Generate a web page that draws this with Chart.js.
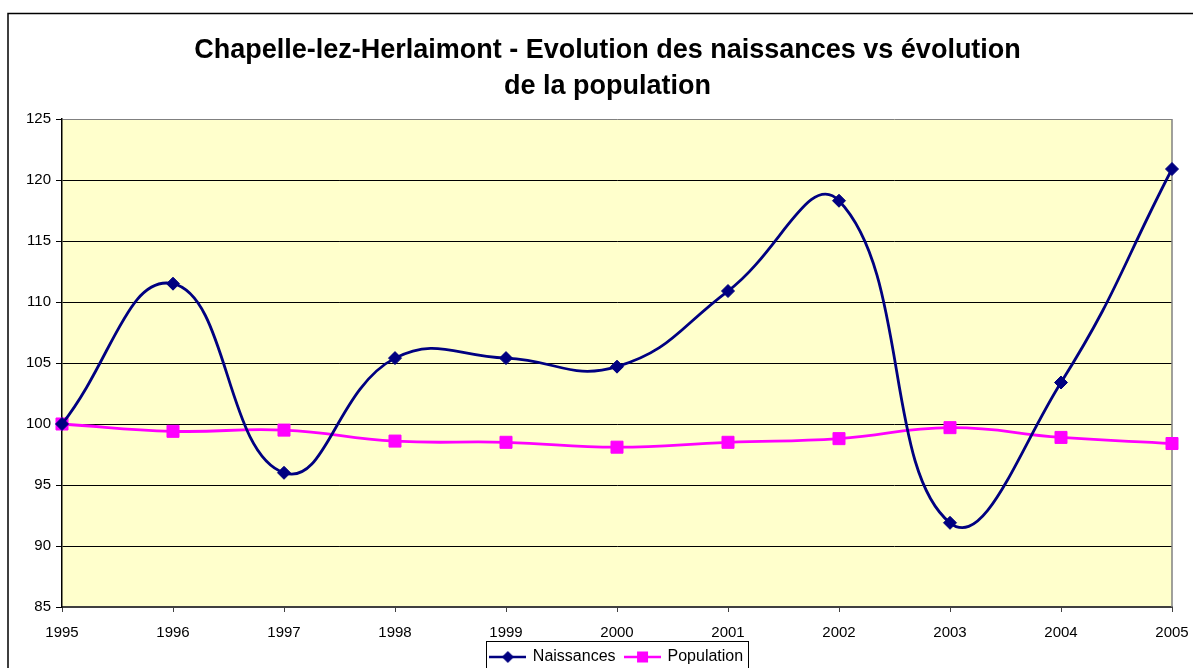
<!DOCTYPE html>
<html>
<head>
<meta charset="utf-8">
<script src="https://cdn.jsdelivr.net/npm/chart.js@4"></script>
<style>
  html, body { margin: 0; padding: 0; background: #fff; }
</style>
</head>
<body>
<canvas id="chart" width="1193" height="668"></canvas>
<script>
// values (index, 1995 = 100)
const years = ["1995", "1996", "1997", "1998", "1999", "2000", "2001", "2002", "2003", "2004", "2005"];
const naissances = [100, 111.5, 96, 105.4, 105.4, 104.7, 110.9, 118.3, 91.9, 103.4, 120.9];
const population = [100, 99.4, 99.5, 98.6, 98.5, 98.1, 98.5, 98.8, 99.7, 98.9, 98.4];
const yTicks = [85, 90, 95, 100, 105, 110, 115, 120, 125];

const NAVY = "#000080";
const MAGENTA = "#FF00FF";
const FONT = "Liberation Sans, Arial, sans-serif";

// small line + marker icons for the legend
function legendIcon(color, shape) {
  const c = document.createElement("canvas");
  c.width = 37; c.height = 14;
  const g = c.getContext("2d");
  g.strokeStyle = color;
  g.lineWidth = 2.5;
  g.beginPath(); g.moveTo(0, 7); g.lineTo(37, 7); g.stroke();
  g.fillStyle = color;
  if (shape === "diamond") {
    g.beginPath();
    g.moveTo(18.5, 1); g.lineTo(24.5, 7); g.lineTo(18.5, 13); g.lineTo(12.5, 7);
    g.closePath(); g.fill();
  } else {
    g.fillRect(13, 1.5, 11, 11);
  }
  return c;
}
const icons = [legendIcon(NAVY, "diamond"), legendIcon(MAGENTA, "square")];

const backdrop = {
  id: "backdrop",
  beforeDraw(chart) {
    const { ctx, chartArea: a } = chart;
    ctx.save();
    ctx.fillStyle = "#fff";
    ctx.fillRect(0, 0, chart.width, chart.height);
    ctx.fillStyle = "#FFFFCC";
    ctx.fillRect(a.left, a.top, a.right - a.left, a.bottom - a.top);
    ctx.strokeStyle = "#000";
    ctx.lineWidth = 1.5;
    ctx.strokeRect(8, 13.5, 1400, 900);
    ctx.restore();
  },
  beforeDatasetsDraw(chart) {
    const { ctx, chartArea: a } = chart;
    ctx.save();
    ctx.strokeStyle = "#808080";
    ctx.lineWidth = 1.5;
    ctx.beginPath();
    ctx.moveTo(a.right, a.top);
    ctx.lineTo(a.right, a.bottom);
    ctx.stroke();
    ctx.restore();
  },
  afterDraw(chart) {
    const boxes = chart.legend.legendHitBoxes;
    if (!boxes || !boxes.length) return;
    const l = Math.min(...boxes.map(b => b.left)) - 5;
    const r = Math.max(...boxes.map(b => b.left + b.width)) + 5;
    const t = Math.min(...boxes.map(b => b.top)) - 8;
    const ctx = chart.ctx;
    ctx.save();
    ctx.strokeStyle = "#000";
    ctx.lineWidth = 1;
    ctx.strokeRect(Math.round(l) + 0.5, Math.round(t) + 0.5, Math.round(r - l), 60);
    ctx.restore();
  }
};

new Chart(document.getElementById("chart"), {
  type: "line",
  data: {
    labels: years,
    datasets: [{
      label: "Naissances",
      data: naissances,
      borderColor: NAVY,
      backgroundColor: NAVY,
      borderWidth: 2.8,
      tension: 0.45,
      pointStyle: "rectRot",
      pointRadius: 6.5,
      pointBorderWidth: 1,
      pointBackgroundColor: NAVY,
      pointBorderColor: NAVY,
      clip: false
    }, {
      label: "Population",
      data: population,
      borderColor: MAGENTA,
      backgroundColor: MAGENTA,
      borderWidth: 2.8,
      tension: 0.45,
      pointStyle: "rect",
      pointRadius: 8.5,
      pointBorderWidth: 1,
      pointBackgroundColor: MAGENTA,
      pointBorderColor: MAGENTA,
      clip: false
    }]
  },
  options: {
    responsive: false,
    animation: false,
    layout: { padding: { top: 15, right: 0, bottom: -7, left: 22 } },
    plugins: {
      title: {
        display: true,
        text: ["Chapelle-lez-Herlaimont - Evolution des naissances vs évolution", "de la population"],
        color: "#000",
        font: { family: FONT, size: 27, weight: "bold", lineHeight: "36px" },
        padding: { top: 18, bottom: 14 }
      },
      legend: {
        position: "bottom",
        fullSize: false,
        labels: {
          color: "#000",
          font: { family: FONT, size: 16 },
          usePointStyle: true,
          pointStyleWidth: 34,
          padding: 10,
          generateLabels(chart) {
            const items = Chart.defaults.plugins.legend.labels.generateLabels(chart);
            items.forEach((it, i) => { it.pointStyle = icons[i]; });
            return items;
          }
        }
      },
      tooltip: { enabled: false }
    },
    scales: {
      x: {
        type: "category",
        offset: false,
        afterFit(scale) {
          scale.height = 32;
          scale.paddingLeft = 0;
          scale.paddingRight = 0;
        },
        grid: { display: true, drawOnChartArea: false, drawTicks: true, tickLength: 5, tickColor: "#404040" },
        border: { display: true, color: "#404040", width: 2 },
        ticks: {
          color: "#000",
          padding: 12,
          maxRotation: 0,
          autoSkip: false,
          font: { family: FONT, size: 15 }
        }
      },
      y: {
        min: 85,
        max: 125,
        afterFit(scale) { scale.width = 40; },
        afterBuildTicks(scale) { scale.ticks = yTicks.map(v => ({ value: v })); },
        grid: {
          color: ctx => (ctx.tick && ctx.tick.value === 125 ? "#808080" : "#000"),
          lineWidth: 1,
          tickLength: 6,
          tickColor: "#000"
        },
        border: { display: true, color: "#000", width: 1.5 },
        ticks: {
          color: "#000",
          padding: 5,
          font: { family: FONT, size: 15 }
        }
      },
      // empty spacer on the right so the plot ends where the original does
      spacer: {
        type: "linear",
        position: "right",
        display: true,
        afterFit(scale) { scale.width = 21; },
        grid: { display: false, drawTicks: false },
        border: { display: false },
        ticks: { display: false }
      }
    }
  },
  plugins: [backdrop]
});
</script>
</body>
</html>
